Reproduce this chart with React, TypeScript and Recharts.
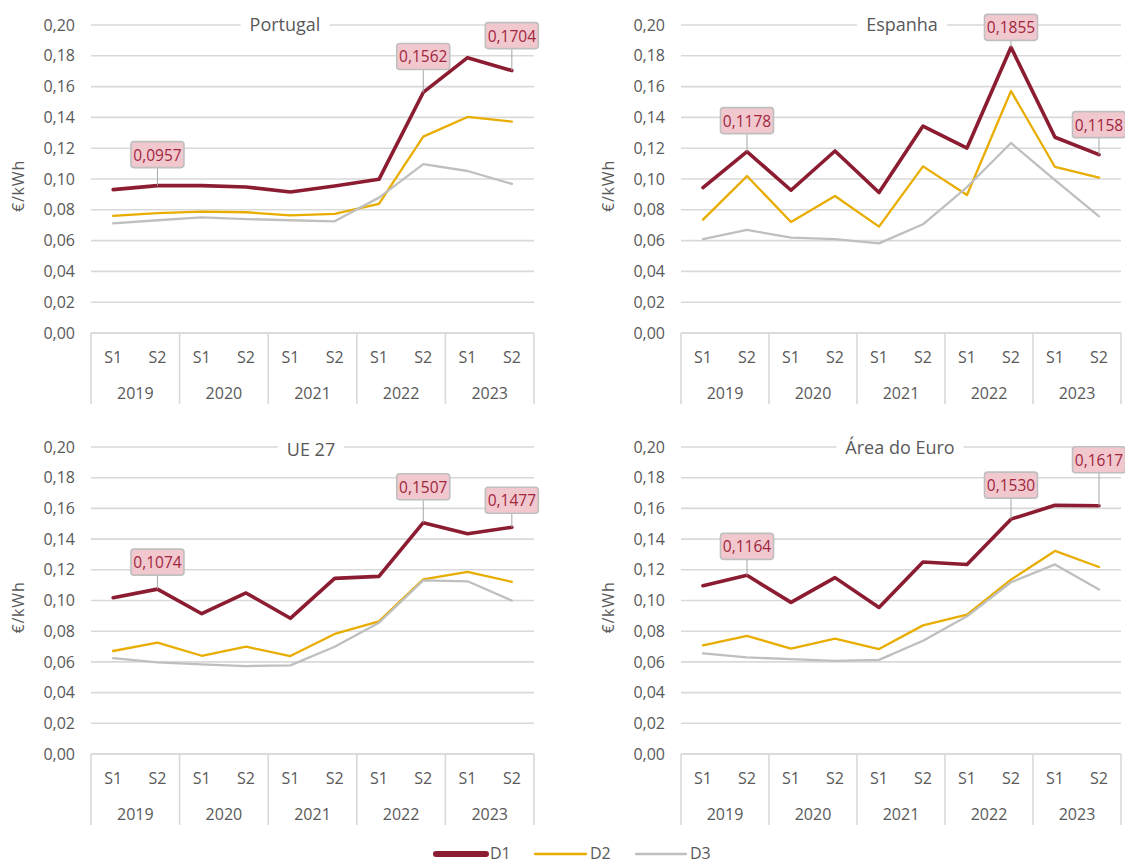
import React from 'react';
import { LineChart, Line, XAxis, YAxis, CartesianGrid, LabelList } from 'recharts';

// ---------- data ----------
const periods = ['S1', 'S2', 'S1', 'S2', 'S1', 'S2', 'S1', 'S2', 'S1', 'S2'];
const years = ['2019', '2019', '2020', '2020', '2021', '2021', '2022', '2022', '2023', '2023'];
const yTicks = [0, 0.02, 0.04, 0.06, 0.08, 0.1, 0.12, 0.14, 0.16, 0.18, 0.2];
const seriesNames = ['D1', 'D2', 'D3'];

const ptD1 = [0.0931, 0.0957, 0.0957, 0.0948, 0.0916, 0.0955, 0.0998, 0.1562, 0.1788, 0.1704];
const ptD2 = [0.0760, 0.0779, 0.0788, 0.0784, 0.0764, 0.0773, 0.0838, 0.1275, 0.1403, 0.1373];
const ptD3 = [0.0712, 0.0732, 0.0751, 0.0740, 0.0732, 0.0725, 0.0879, 0.1097, 0.1052, 0.0968];

const esD1 = [0.0944, 0.1178, 0.0927, 0.1182, 0.0912, 0.1344, 0.1201, 0.1855, 0.1271, 0.1158];
const esD2 = [0.0736, 0.1019, 0.0721, 0.0890, 0.0691, 0.1082, 0.0896, 0.1571, 0.1078, 0.1009];
const esD3 = [0.0610, 0.0669, 0.0619, 0.0610, 0.0582, 0.0706, 0.0948, 0.1234, 0.0992, 0.0758];

const ueD1 = [0.1018, 0.1074, 0.0914, 0.1049, 0.0884, 0.1144, 0.1157, 0.1507, 0.1435, 0.1477];
const ueD2 = [0.0671, 0.0725, 0.0640, 0.0699, 0.0638, 0.0782, 0.0864, 0.1138, 0.1186, 0.1122];
const ueD3 = [0.0625, 0.0597, 0.0584, 0.0573, 0.0577, 0.0699, 0.0855, 0.1131, 0.1125, 0.0999];

const aeD1 = [0.1096, 0.1164, 0.0988, 0.1149, 0.0955, 0.1251, 0.1235, 0.1530, 0.1620, 0.1617];
const aeD2 = [0.0708, 0.0770, 0.0686, 0.0751, 0.0684, 0.0838, 0.0908, 0.1136, 0.1323, 0.1218];
const aeD3 = [0.0655, 0.0629, 0.0618, 0.0607, 0.0613, 0.0738, 0.0897, 0.1119, 0.1235, 0.1071];

// indices of D1 points carrying a data label
const labelledIdx = [1, 7, 9];

// ---------- styles ----------
const COLORS = ['#8B1C31', '#E8AD00', '#BFBFBF'];
const WIDTHS = [3.6, 2.3, 2.3];
const TEXT = '#595959';
const GRID = '#D9D9D9';
const FONT = "'Open Sans', sans-serif";

const fmtTick = (v: number) => v.toFixed(2).replace('.', ',');
const fmtVal = (v: number) => v.toFixed(4).replace('.', ',');

type PanelDef = {
  title: string;
  titleX: number;
  titleY: number;
  left: number;
  top: number;
  width: number;
  height: number;
  marginTop: number;
  marginRight: number;
  yAxisWidth: number;
  xAxisHeight: number;
  d1: number[];
  d2: number[];
  d3: number[];
  lifts: number[];
};

const panels: PanelDef[] = [
  { title: 'Portugal', titleX: 285, titleY: 24, left: 0, top: 0, width: 560, height: 420, marginTop: 25, marginRight: 26, yAxisWidth: 91, xAxisHeight: 87, d1: ptD1, d2: ptD2, d3: ptD3, lifts: [18, 23, 22] },
  { title: 'Espanha', titleX: 902, titleY: 24, left: 560, top: 0, width: 565, height: 420, marginTop: 25, marginRight: 4, yAxisWidth: 121, xAxisHeight: 87, d1: esD1, d2: esD2, d3: esD3, lifts: [18, 7, 17] },
  { title: 'UE 27', titleX: 311, titleY: 449, left: 0, top: 420, width: 560, height: 425, marginTop: 27, marginRight: 26, yAxisWidth: 91, xAxisHeight: 91, d1: ueD1, d2: ueD2, d3: ueD3, lifts: [14, 23, 14] },
  { title: 'Área do Euro', titleX: 900, titleY: 447, left: 560, top: 420, width: 565, height: 425, marginTop: 27, marginRight: 4, yAxisWidth: 121, xAxisHeight: 91, d1: aeD1, d2: aeD2, d3: aeD3, lifts: [16, 21, 33] },
];

const xTicks = periods.map((_, i) => i);

function makeXTick(half: number) {
  return (props: any) => {
    const { x, y, payload } = props;
    const i = Number(payload.value);
    const p = periods[i];
    const isFirstOfYear = i === 0 || years[i] !== years[i - 1];
    const isLast = i === periods.length - 1;
    return (
      <g>
        <text x={x} y={y + 23.5} textAnchor="middle" dominantBaseline="central" fill={TEXT} fontSize={16}>{p}</text>
        {isFirstOfYear && (
          <text x={x + half} y={y + 60} textAnchor="middle" dominantBaseline="central" fill={TEXT} fontSize={16}>{years[i]}</text>
        )}
        {isFirstOfYear && <line x1={x - half} y1={y} x2={x - half} y2={y + 71} stroke={GRID} strokeWidth={1.6} />}
        {isLast && <line x1={x + half} y1={y} x2={x + half} y2={y + 71} stroke={GRID} strokeWidth={1.6} />}
      </g>
    );
  };
}

function makeDataLabel(lifts: number[]) {
  return (props: any) => {
    const { x, y, value, index } = props;
    const k = labelledIdx.indexOf(index);
    if (k < 0 || x == null || y == null) return null;
    const lift = lifts[k];
    const w = 53;
    const h = 26;
    const bottom = y - lift;
    return (
      <g>
        <line x1={x} y1={bottom} x2={x} y2={y} stroke="#A6A6A6" strokeWidth={1} />
        <rect x={x - w / 2} y={bottom - h} width={w} height={h} rx={3} ry={3} fill="#F2C8CF" stroke="#BFBFBF" strokeWidth={1.6} />
        <text x={x} y={bottom - h / 2} textAnchor="middle" dominantBaseline="central" fill="#A0263C" fontSize={15.5}>{fmtVal(value)}</text>
      </g>
    );
  };
}

const yLabel = (props: any) => {
  const vb = props.viewBox || { x: 0, y: 0, width: 0, height: 0 };
  const cx = vb.x + vb.width - 73;
  const cy = vb.y + vb.height / 2 + 7;
  return (
    <text x={cx} y={cy} transform={`rotate(-90, ${cx}, ${cy})`} textAnchor="middle" dominantBaseline="central" fill={TEXT} fontSize={16} letterSpacing={0.8}>
      €/kWh
    </text>
  );
};

function Panel({ def }: { def: PanelDef }) {
  const data = periods.map((p, i) => ({ i, d1: def.d1[i], d2: def.d2[i], d3: def.d3[i] }));
  const plotW = def.width - def.marginRight - def.yAxisWidth;
  const half = plotW / periods.length / 2;
  return (
    <div style={{ position: 'absolute', left: def.left, top: def.top, width: def.width, height: def.height }}>
      <LineChart
        width={def.width}
        height={def.height}
        data={data}
        margin={{ top: def.marginTop, right: def.marginRight, bottom: 0, left: 0 }}
      >
        <CartesianGrid vertical={false} stroke={GRID} strokeWidth={1.6} />
        <XAxis
          dataKey="i"
          type="number"
          domain={[-0.5, periods.length - 0.5]}
          ticks={xTicks}
          interval={0}
          height={def.xAxisHeight}
          tickLine={false}
          tickSize={0}
          tickMargin={0}
          axisLine={{ stroke: GRID, strokeWidth: 1.6 }}
          tick={makeXTick(half)}
        />
        <YAxis
          domain={[0, 0.2]}
          ticks={yTicks}
          interval={0}
          width={def.yAxisWidth}
          axisLine={false}
          tickLine={false}
          tickSize={0}
          tickMargin={16}
          tickFormatter={fmtTick}
          tick={{ fill: TEXT, fontSize: 16 }}
          label={{ content: yLabel }}
        />
        <Line dataKey="d1" name={seriesNames[0]} stroke={COLORS[0]} strokeWidth={WIDTHS[0]} dot={false} activeDot={false} isAnimationActive={false} strokeLinejoin="round" strokeLinecap="round" />
        <Line dataKey="d2" name={seriesNames[1]} stroke={COLORS[1]} strokeWidth={WIDTHS[1]} dot={false} activeDot={false} isAnimationActive={false} strokeLinejoin="round" strokeLinecap="round" />
        <Line dataKey="d3" name={seriesNames[2]} stroke={COLORS[2]} strokeWidth={WIDTHS[2]} dot={false} activeDot={false} isAnimationActive={false} strokeLinejoin="round" strokeLinecap="round" />
        <Line dataKey="d1" stroke="none" dot={false} activeDot={false} isAnimationActive={false} legendType="none">
          <LabelList dataKey="d1" content={makeDataLabel(def.lifts)} />
        </Line>
      </LineChart>
      <div
        style={{
          position: 'absolute',
          left: def.titleX - def.left,
          top: def.titleY - def.top - 13,
          transform: 'translateX(-50%)',
          background: '#fff',
          padding: '0 9px',
          fontSize: 18,
          lineHeight: '26px',
          color: TEXT,
          whiteSpace: 'nowrap',
        }}
      >
        {def.title}
      </div>
    </div>
  );
}

function LegendBar() {
  const items = [
    { x1: 436, x2: 486, tx: 490 },
    { x1: 535, x2: 586, tx: 590 },
    { x1: 636, x2: 686, tx: 690 },
  ];
  return (
    <svg style={{ position: 'absolute', left: 0, top: 836 }} width={1125} height={29}>
      {items.map((it, k) => (
        <g key={seriesNames[k]}>
          <line x1={it.x1} y1={18} x2={it.x2} y2={18} stroke={COLORS[k]} strokeWidth={k === 0 ? 6 : 2.3} strokeLinecap="round" />
          <text x={it.tx} y={17} dominantBaseline="central" fill={TEXT} fontSize={16}>{seriesNames[k]}</text>
        </g>
      ))}
    </svg>
  );
}

export default function App() {
  return (
    <div style={{ position: 'absolute', left: 0, top: 0, width: 1125, height: 865, background: '#fff', fontFamily: FONT, overflow: 'hidden' }}>
      {panels.map((p) => (
        <Panel key={p.title} def={p} />
      ))}
      <LegendBar />
    </div>
  );
}
